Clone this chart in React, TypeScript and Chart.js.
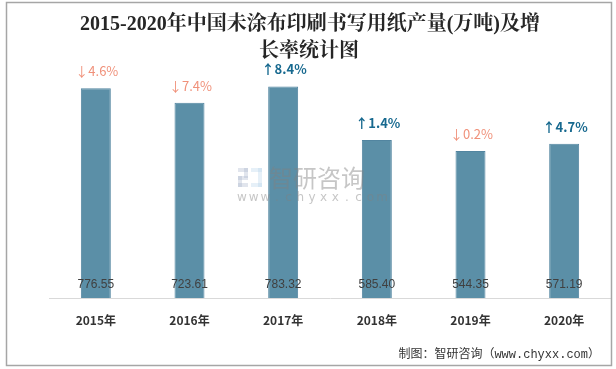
import React, { useEffect, useRef } from "react";
import { Chart, registerables } from "chart.js";

Chart.register(...registerables);

const categories = ["2015年", "2016年", "2017年", "2018年", "2019年", "2020年"];
const production = [776.55, 723.61, 783.32, 585.4, 544.35, 571.19];
const growth = [-4.6, -7.4, 8.4, 1.4, -0.2, 4.7];
const titleLines = ["2015-2020年中国未涂布印刷书写用纸产量(万吨)及增", "长率统计图"];
const sourceText = "制图：智研咨询（www.chyxx.com）";

const decorPlugin = {
  id: "decor",
  afterDatasetsDraw(chart: any) {
    const ctx = chart.ctx;
    const meta = chart.getDatasetMeta(0);
    ctx.save();
    // watermark
    ctx.globalAlpha = 0.35;
    ctx.fillStyle = "#a9b4cc";
    ctx.fillRect(238, 168, 10, 4);
    ctx.fillRect(244, 168, 4, 10);
    ctx.fillRect(238, 176, 10, 4);
    ctx.fillRect(238, 176, 4, 11);
    ctx.fillRect(238, 183, 10, 4);
    ctx.fillStyle = "#b7d3ea";
    ctx.fillRect(251, 168, 11, 4);
    ctx.fillRect(258, 168, 4, 19);
    ctx.fillRect(251, 183, 11, 4);
    ctx.globalAlpha = 0.45;
    ctx.fillStyle = "#808080";
    ctx.font = "24px 'Noto Sans CJK SC'";
    ctx.textAlign = "left";
    ctx.textBaseline = "middle";
    ctx.fillText("智研咨询", 269, 178);
    ctx.font = "12px 'DejaVu Sans'";
    const wm = "www.chyxx.com".split("");
    const step = 140 / (wm.length - 1);
    ctx.textAlign = "center";
    wm.forEach((c, i) => ctx.fillText(c, 242 + i * step, 198));
    ctx.globalAlpha = 1;

    // labels
    meta.data.forEach((bar: any, i: number) => {
      ctx.textAlign = "center";
      ctx.textBaseline = "middle";
      ctx.fillStyle = "#404040";
      ctx.font = "12px 'Liberation Sans', 'Noto Sans'";
      ctx.fillText(production[i].toFixed(2), bar.x, 285);
      const g = growth[i];
      if (g < 0) {
        ctx.fillStyle = "#f0917a";
        ctx.font = "13px 'Noto Sans CJK SC'";
        ctx.fillText("↓" + Math.abs(g).toFixed(1) + "%", bar.x + 1, bar.y - 17);
      } else {
        ctx.fillStyle = "#17698f";
        ctx.font = "bold 13px 'Noto Sans CJK SC'";
        ctx.fillText("↑" + g.toFixed(1) + "%", bar.x + 1, bar.y - 17);
      }
    });
    ctx.restore();
  },
  afterDraw(chart: any) {
    const ctx = chart.ctx;
    ctx.save();
    ctx.fillStyle = "#262626";
    ctx.textAlign = "center";
    ctx.textBaseline = "middle";
    ctx.font = "bold 20px 'Liberation Serif', 'Noto Serif CJK SC', serif";
    ctx.fillText(titleLines[0], 310, 25);
    ctx.fillText(titleLines[1], 309, 52);
    ctx.font = "12px 'Liberation Mono', 'Noto Sans CJK SC'";
    ctx.textAlign = "right";
    ctx.fillStyle = "#333333";
    ctx.fillText(sourceText, 600, 355);
    ctx.strokeStyle = "#a6a6a6";
    ctx.lineWidth = 1.5;
    ctx.strokeRect(6.5, 2.5, 605, 363);
    ctx.restore();
  },
};

export default function App() {
  const ref = useRef<HTMLCanvasElement>(null);
  useEffect(() => {
    if (!ref.current) return;
    const chart = new Chart(ref.current, {
      type: "bar",
      data: {
        labels: categories,
        datasets: [
          {
            data: production,
            backgroundColor: "#5b8fa7",
            borderColor: "#5285a0",
            borderWidth: 1,
            categoryPercentage: 1,
            barPercentage: 0.32,
          },
        ],
      },
      plugins: [decorPlugin],
      options: {
        animation: false,
        responsive: false,
        maintainAspectRatio: false,
        layout: { padding: { left: 49, right: 5, top: 28, bottom: 26.6 } },
        plugins: {
          legend: { display: false },
          title: { display: false },
          tooltip: { enabled: false },
        },
        scales: {
          x: {
            grid: { display: false, drawTicks: false },
            border: { display: true, color: "#d9d9d9", width: 1 },
            ticks: {
              padding: 15,
              color: "#333333",
              font: { size: 12, weight: "bold", family: "'Noto Sans CJK SC', 'Noto Sans'" },
            },
          },
          y: {
            display: false,
            min: 0,
            max: 1000,
          },
        },
      },
    });
    return () => chart.destroy();
  }, []);
  return (
    <div style={{ position: "absolute", left: 0, top: 0, width: 616, height: 369, background: "#fff" }}>
      <canvas ref={ref} width={616} height={369} style={{ width: 616, height: 369 }} />
    </div>
  );
}
